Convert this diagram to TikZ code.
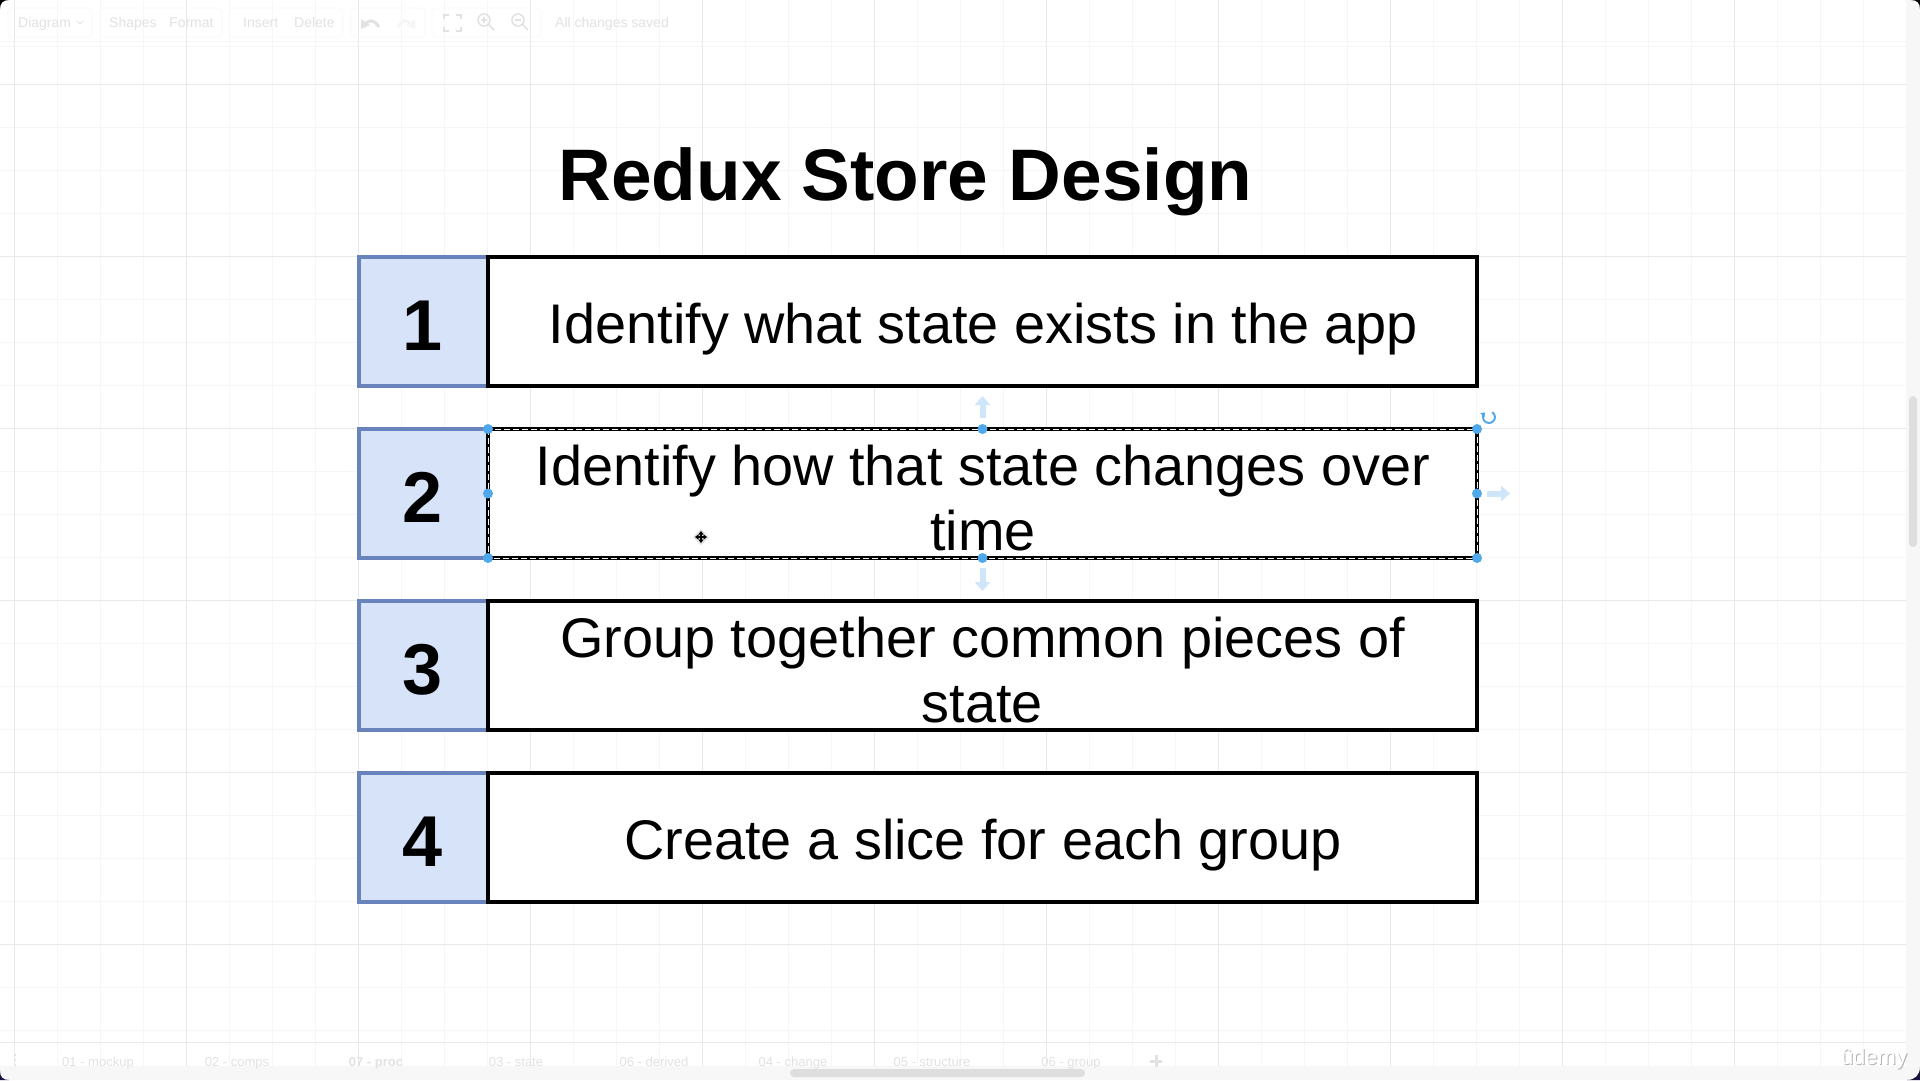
\documentclass[tikz,border=0pt]{standalone}
\usepackage{fontspec}
\setmainfont{Liberation Sans}
\usetikzlibrary{arrows.meta}
\definecolor{gridmajor}{HTML}{E9E9E9}
\definecolor{gridminor}{HTML}{F6F6F6}
\definecolor{toolline}{HTML}{F9F9F9}
\definecolor{numfill}{HTML}{D6E3F8}
\definecolor{numline}{HTML}{6984BC}
\definecolor{handle}{HTML}{4FA8EC}
\definecolor{ghost}{HTML}{CFE6FA}
\definecolor{faint}{HTML}{E2E2E2}
\definecolor{tabbar}{HTML}{F7F7F7}
\definecolor{scrollthumb}{HTML}{DEDEDE}
\definecolor{cornerdark}{HTML}{1C1240}
\tikzset{
  x=1pt,y=-1pt,
  numbox/.style={draw=numline,fill=numfill,line width=4.5pt,minimum width=129pt,minimum height=129pt,inner sep=0pt,outer sep=0pt},
  textbox/.style={draw=black,fill=white,line width=4.5pt,minimum width=989pt,minimum height=129pt,inner sep=0pt,outer sep=0pt},
  numtext/.style={font=\fontsize{72}{72}\bfseries\selectfont,anchor=base,inner sep=0pt},
  steptext/.style={font=\fontsize{55.85}{65}\selectfont,anchor=base,align=center,inner sep=0pt},
  seldash/.style={draw=white,line width=0.9pt,dash pattern=on 6pt off 3pt},
  handledot/.style={circle,fill=handle,minimum size=10pt,inner sep=0pt},
  ghostarrow/.style={draw=ghost,line width=6pt,-{Triangle[length=9pt,width=15pt]}},
  toolbox/.style={draw=toolline,line width=0.8pt,rounded corners=4pt},
  tooltext/.style={font=\fontsize{14}{14}\selectfont,text=faint,anchor=base west,inner sep=0pt},
  tabtext/.style={font=\fontsize{13}{13}\selectfont,text=faint,anchor=base,inner sep=0pt},
  toolicon/.style={draw=faint,line width=1.6pt},
}
\begin{document}
\begin{tikzpicture}
\useasboundingbox (0,0) rectangle (1920,1080);
\fill[white] (0,0) rectangle (1920,1080);
% grid
\foreach \i in {0,...,43}{
  \draw[gridminor,line width=1pt] ({14+43*\i},0) -- ({14+43*\i},1066);
}
\foreach \j in {0,...,24}{
  \draw[gridminor,line width=1pt] (0,{41+43*\j}) -- (1906,{41+43*\j});
}
\foreach \i in {0,...,10}{
  \draw[gridmajor,line width=1pt] ({14+172*\i},0) -- ({14+172*\i},1066);
}
\foreach \j in {0,...,5}{
  \draw[gridmajor,line width=1pt] (0,{84+172*\j}) -- (1906,{84+172*\j});
}
\draw[gridminor,line width=1pt] (0,46) -- (1906,46);
\draw[gridmajor,line width=1pt] (0,1042.5) -- (1906,1042.5);
% toolbar
\draw[toolbox] (8,8) rectangle (92,37);
\draw[toolbox] (100,8) rectangle (222,37);
\draw[toolbox] (229,8) rectangle (343,37);
\draw[toolbox] (351,8) rectangle (425,37);
\draw[toolbox] (432,8) rectangle (541,37);
\node[tooltext] (tbdiagram) at (18,27) {Diagram};
\node[tooltext] (tbshapes) at (109,27) {Shapes};
\node[tooltext] (tbformat) at (169,27) {Format};
\node[tooltext] (tbinsert) at (243,27) {Insert};
\node[tooltext] (tbdelete) at (294,27) {Delete};
\node[tooltext] (tbsaved) at (555,27) {All changes saved};
\draw[toolicon,line width=1pt] (77,21) -- (80,24) -- (83,21);
\draw[toolicon,line width=3pt] (364,26) .. controls (368,19) and (374,19) .. (379,27);
\fill[faint] (361,19) -- (370,25) -- (361,29) -- cycle;
\draw[gridminor,line width=3pt] (398,27) .. controls (402,19) and (408,19) .. (412,26);
\fill[gridminor] (415,19) -- (406,25) -- (415,29) -- cycle;
\draw[toolicon] (444,19) -- (444,15) -- (449,15) (456,15) -- (461,15) -- (461,19) (461,27) -- (461,31) -- (456,31) (449,31) -- (444,31) -- (444,27);
\draw[toolicon] (484,20) circle[radius=6];
\draw[toolicon] (488.5,24.5) -- (494,30) (481,20) -- (487,20) (484,17) -- (484,23);
\draw[toolicon] (518,20) circle[radius=6];
\draw[toolicon] (522.5,24.5) -- (528,30) (515,20) -- (521,20);
% tab bar
\fill[tabbar] (0,1066) rectangle (1920,1080);
\fill[scrollthumb,rounded corners=4pt] (790,1069) rectangle (1085,1077) ;
\node[tabtext] (tab1) at (98,1066) {01 - mockup};
\node[tabtext] (tab2) at (237,1066) {02 - comps};
\node[tabtext,font=\fontsize{13}{13}\bfseries\selectfont] (tab3) at (376,1066) {07 - proc};
\node[tabtext] (tab4) at (516,1066) {03 - state};
\node[tabtext] (tab5) at (654,1066) {06 - derived};
\node[tabtext] (tab6) at (793,1066) {04 - change};
\node[tabtext] (tab7) at (932,1066) {05 - structure};
\node[tabtext] (tab8) at (1071,1066) {06 - group};
\draw[faint,line width=3pt] (1150,1061) -- (1162,1061) (1156,1055) -- (1156,1067);
\fill[faint] (15.5,1055) circle[radius=1] (15.5,1060) circle[radius=1] (15.5,1065) circle[radius=1];
% right scrollbar
\fill[tabbar] (1906,0) rectangle (1920,1080);
\fill[scrollthumb,rounded corners=4pt] (1909,396) rectangle (1917,547);
% title
\node[font=\fontsize{73}{73}\bfseries\selectfont,inner sep=0pt,anchor=base] (title) at (905.5,200) {Redux Store Design};
% rows
\foreach \r/\c in {1/321.5,2/493.5,3/665.5,4/837.5}{
  \node[numbox] (n\r) at (423.5,\c) {};
  \node[textbox] (b\r) at (982.5,\c) {};
}
\foreach \r/\b in {1/350,2/522,3/694,4/866}{
  \node[numtext] (d\r) at (423,\b) {\r};
}
\node[steptext] (s1) at (983.5,343) {Identify what state exists in the app};
\node[steptext] (s2) at (983,550) {Identify how that state changes over\\time};
\node[steptext] (s3) at (982.5,722) {Group together common pieces of\\state};
\node[steptext] (s4) at (983,859) {Create a slice for each group};
% selection
\draw[seldash] (b2.north west) rectangle (b2.south east);
\foreach \a/\nm in {north west/nw,north/nn,north east/ne,west/ww,east/ee,south west/sw,south/ss,south east/se}{
  \node[handledot] (h\nm) at (b2.\a) {};
}
\coordinate (arrNa) at (982.5,418); \coordinate (arrNb) at (982.5,396);
\coordinate (arrSa) at (982.5,568); \coordinate (arrSb) at (982.5,591);
\coordinate (arrEa) at (1487,493.5); \coordinate (arrEb) at (1510,493.5);
\draw[ghostarrow] (arrNa) -- (arrNb);
\draw[ghostarrow] (arrSa) -- (arrSb);
\draw[ghostarrow] (arrEa) -- (arrEb);
% rotate icon
\draw[handle,line width=1.9pt,-{Triangle[length=4pt,width=5.5pt]}] (1492.2,412.2) .. controls (1493.9,413.4) and (1495,415.1) .. (1495,417) .. controls (1495,420.3) and (1492.3,423) .. (1489,423) .. controls (1485.7,423) and (1483,420.3) .. (1483,417) .. controls (1483,415.3) and (1483.8,413.8) .. (1485.2,412.4);
% cursor
\fill[black!12] (701,529) -- (709,537) -- (701,545) -- (693,537) -- cycle;
\draw[black,line width=1.2pt,{Triangle[length=3.5pt,width=5pt]}-{Triangle[length=3.5pt,width=5pt]}] (695,537) -- (707,537);
\draw[black,line width=1.2pt,{Triangle[length=3.5pt,width=5pt]}-{Triangle[length=3.5pt,width=5pt]}] (701,531) -- (701,543);
% watermark
\node[font=\fontsize{22}{22}\selectfont,text=black!30,inner sep=0pt,anchor=base] (wms) at (1875,1065) {ûdemy};
\node[font=\fontsize{22}{22}\selectfont,text=white,inner sep=0pt,anchor=base] (wm) at (1874,1064) {ûdemy};
% window corners
\fill[black] (0,0) -- (9,0) .. controls (3,0) and (0,3) .. (0,9) -- cycle;
\fill[black] (1920,0) -- (1911,0) .. controls (1917,0) and (1920,3) .. (1920,9) -- cycle;
\fill[cornerdark] (0,1080) -- (0,1071) .. controls (0,1077) and (3,1080) .. (9,1080) -- cycle;
\fill[cornerdark] (1920,1080) -- (1907,1080) .. controls (1915,1080) and (1920,1075) .. (1920,1067) -- cycle;
\end{tikzpicture}
\end{document}
